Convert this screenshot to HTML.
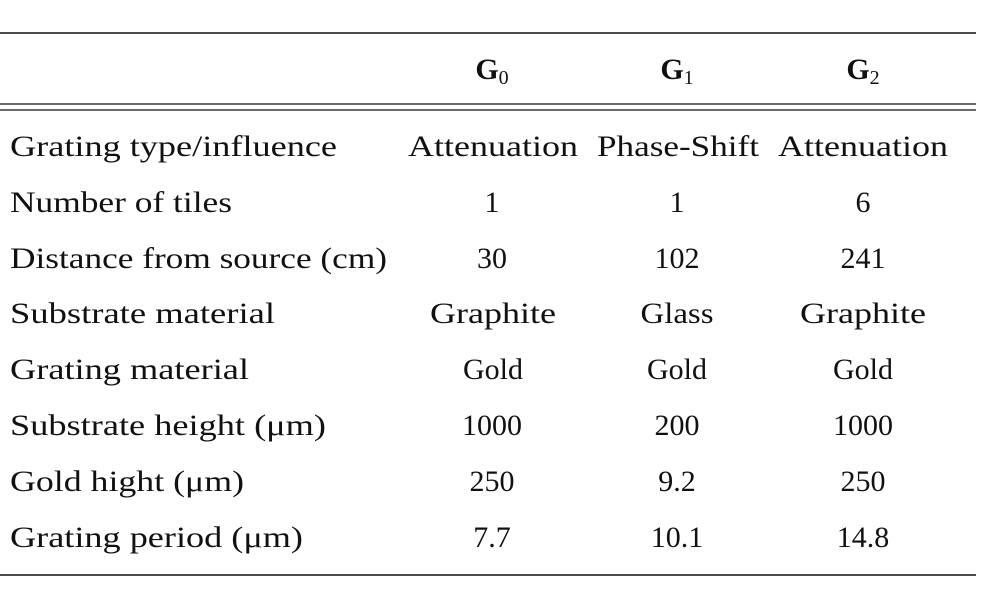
<!DOCTYPE html>
<html><head><meta charset="utf-8"><style>
html,body{margin:0;padding:0;background:#fff;}
svg{display:block;}
text{font-family:"Liberation Serif","DejaVu Serif",serif;font-size:30px;fill:#111;}
</style></head><body>
<svg width="981" height="603" viewBox="0 0 981 603">
<line x1="0" y1="33" x2="976" y2="33" stroke="#111" stroke-width="1.5"/>
<line x1="0" y1="104" x2="976" y2="104" stroke="#111" stroke-width="1.3"/>
<line x1="0" y1="110" x2="976" y2="110" stroke="#111" stroke-width="1.3"/>
<line x1="0" y1="575" x2="976" y2="575" stroke="#111" stroke-width="1.5"/>
<g font-weight="bold">
<text x="492" y="79" text-anchor="middle" style="font-weight:bold">G<tspan font-size="20" font-weight="normal" dy="5">0</tspan></text>
<text x="677" y="79" text-anchor="middle" style="font-weight:bold">G<tspan font-size="20" font-weight="normal" dy="5">1</tspan></text>
<text x="863" y="79" text-anchor="middle" style="font-weight:bold">G<tspan font-size="20" font-weight="normal" dy="5">2</tspan></text>
</g>
<g>
<text x="10" y="156" textLength="327" lengthAdjust="spacingAndGlyphs">Grating type/influence</text>
<text x="10" y="212" textLength="222" lengthAdjust="spacingAndGlyphs">Number of tiles</text>
<text x="10" y="268" textLength="377" lengthAdjust="spacingAndGlyphs">Distance from source (cm)</text>
<text x="10" y="323" textLength="265" lengthAdjust="spacingAndGlyphs">Substrate material</text>
<text x="10" y="379" textLength="239" lengthAdjust="spacingAndGlyphs">Grating material</text>
<text x="10" y="435" textLength="316" lengthAdjust="spacingAndGlyphs">Substrate height (μm)</text>
<text x="10" y="491" textLength="234" lengthAdjust="spacingAndGlyphs">Gold hight (μm)</text>
<text x="10" y="547" textLength="293" lengthAdjust="spacingAndGlyphs">Grating period (μm)</text>
</g>
<g text-anchor="middle">
<text x="493" y="156" textLength="170" lengthAdjust="spacingAndGlyphs">Attenuation</text>
<text x="492" y="212">1</text>
<text x="492" y="268">30</text>
<text x="493" y="323" textLength="126" lengthAdjust="spacingAndGlyphs">Graphite</text>
<text x="493" y="379">Gold</text>
<text x="492" y="435">1000</text>
<text x="492" y="491">250</text>
<text x="492" y="547">7.7</text>
</g>
<g text-anchor="middle">
<text x="678" y="156" textLength="162" lengthAdjust="spacingAndGlyphs">Phase-Shift</text>
<text x="677" y="212">1</text>
<text x="677" y="268">102</text>
<text x="677" y="323" textLength="73" lengthAdjust="spacingAndGlyphs">Glass</text>
<text x="677" y="379">Gold</text>
<text x="677" y="435">200</text>
<text x="677" y="491">9.2</text>
<text x="677" y="547">10.1</text>
</g>
<g text-anchor="middle">
<text x="863" y="156" textLength="170" lengthAdjust="spacingAndGlyphs">Attenuation</text>
<text x="863" y="212">6</text>
<text x="863" y="268">241</text>
<text x="863" y="323" textLength="126" lengthAdjust="spacingAndGlyphs">Graphite</text>
<text x="863" y="379">Gold</text>
<text x="863" y="435">1000</text>
<text x="863" y="491">250</text>
<text x="863" y="547">14.8</text>
</g>
</svg>
</body></html>
